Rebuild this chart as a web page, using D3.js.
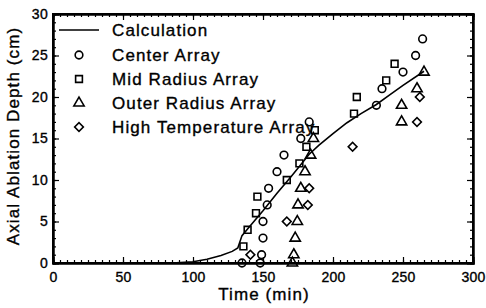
<!DOCTYPE html>
<html>
<head>
<meta charset="utf-8">
<script src="https://cdn.jsdelivr.net/npm/d3@7"></script>
<style>
  body { margin: 0; background: #fff; }
  svg text { font-family: "Liberation Sans", Arial, sans-serif; fill: #000; stroke: #000; stroke-width: 0.35px; }
  .axis path, .axis line { stroke: #000; }
  .axis text { font-size: 14px; letter-spacing: 0.3px; }
</style>
</head>
<body>
<div id="chart"></div>
<script>
// Calculation curve (time, depth)
var calcTime  = [0, 85, 100, 110, 120, 128, 132, 135, 140, 150, 160, 170, 183, 190, 200, 210, 220, 231, 240, 250, 265];
var calcDepth = [0, 0, 0.15, 0.45, 0.9, 1.4, 1.8, 3.3, 4.3, 6.3, 8.4, 10.4, 13.1, 14.2, 15.6, 16.9, 18.0, 19.1, 20.2, 21.4, 23.1];

// measured arrays
var centerTime  = [135, 148, 149, 150, 150, 153, 154, 160, 165, 177, 183, 231, 235, 250, 259, 264];
var centerDepth = [0, 0, 1, 3, 5, 7, 9, 11, 13, 15, 17, 19, 21, 23, 25, 27];

var midTime  = [136, 139, 145, 146, 167, 176, 181, 187, 215, 217, 238, 244];
var midDepth = [2, 4, 6, 8, 10, 12, 14, 16, 18, 20, 22, 24];

var outerTime  = [171, 172, 173, 174.5, 175, 177, 180, 184, 186, 249, 249, 260, 265];
var outerDepth = [0, 1, 3, 5, 7, 9, 11, 13, 15, 17, 19, 21, 23];

var highTime  = [141, 167, 182, 183, 214, 260, 262];
var highDepth = [1, 5, 7, 9, 14, 17, 20];

var legendLabels = ["Calculation", "Center Array", "Mid Radius Array", "Outer Radius Array", "High Temperature Array"];
var xTicks = [0, 50, 100, 150, 200, 250, 300];
var yTicks = [0, 5, 10, 15, 20, 25, 30];

var svgWidth = 486;
var svgHeight = 308;
var margin = { top: 14, right: 13, bottom: 45, left: 53 };
var width = svgWidth - margin.left - margin.right;
var height = svgHeight - margin.top - margin.bottom;

var svg = d3.select("#chart").append("svg")
  .attr("width", svgWidth)
  .attr("height", svgHeight);

var chartGroup = svg.append("g")
  .attr("transform", `translate(${margin.left}, ${margin.top})`);

var x = d3.scaleLinear().domain([0, 300]).range([0, width]);
var y = d3.scaleLinear().domain([0, 30]).range([height, 0]);

// minor ticks (inward) on all four sides
chartGroup.append("g").attr("class", "axis")
  .attr("transform", `translate(0, ${height})`)
  .call(d3.axisBottom(x).ticks(60).tickSize(-3).tickFormat(""));
chartGroup.append("g").attr("class", "axis")
  .call(d3.axisTop(x).ticks(60).tickSize(-3).tickFormat(""));
chartGroup.append("g").attr("class", "axis")
  .call(d3.axisLeft(y).ticks(30).tickSize(-3).tickFormat(""));
chartGroup.append("g").attr("class", "axis")
  .attr("transform", `translate(${width}, 0)`)
  .call(d3.axisRight(y).ticks(30).tickSize(-3).tickFormat(""));

// major ticks + labels
var xAxis = chartGroup.append("g").attr("class", "axis")
  .attr("transform", `translate(0, ${height})`)
  .call(d3.axisBottom(x).tickValues(xTicks).tickSize(-6).tickPadding(9));
var yAxis = chartGroup.append("g").attr("class", "axis")
  .call(d3.axisLeft(y).tickValues(yTicks).tickSize(-6).tickPadding(5));
chartGroup.append("g").attr("class", "axis")
  .call(d3.axisTop(x).tickValues(xTicks).tickSize(-6).tickFormat(""));
chartGroup.append("g").attr("class", "axis")
  .attr("transform", `translate(${width}, 0)`)
  .call(d3.axisRight(y).tickValues(yTicks).tickSize(-6).tickFormat(""));

chartGroup.selectAll(".axis path").attr("stroke-width", 2);
chartGroup.selectAll(".axis line").attr("stroke-width", 1.2);

// frame
chartGroup.append("rect")
  .attr("width", width).attr("height", height)
  .attr("fill", "none").attr("stroke", "#000").attr("stroke-width", 2);

// calculation line
var calcData = calcTime.map((t, i) => [t, calcDepth[i]]);
chartGroup.append("path")
  .datum(calcData)
  .attr("fill", "none")
  .attr("stroke", "#000")
  .attr("stroke-width", 1.6)
  .attr("d", d3.line().x(d => x(d[0])).y(d => y(d[1])));

// marker shapes
var symCircle = d3.symbol().type(d3.symbolCircle).size(46);
var symSquare = d3.symbol().type(d3.symbolSquare).size(46);
var symTriangle = d3.symbol().type(d3.symbolTriangle).size(46);
var symDiamond = d3.symbol().type(d3.symbolSquare).size(38);

var seriesList = [
  { t: centerTime, d: centerDepth, sym: symCircle, rot: 0 },
  { t: midTime, d: midDepth, sym: symSquare, rot: 0 },
  { t: outerTime, d: outerDepth, sym: symTriangle, rot: 0 },
  { t: highTime, d: highDepth, sym: symDiamond, rot: 45 }
];

seriesList.forEach(function(s) {
  chartGroup.selectAll(null)
    .data(s.t.map((t, i) => [t, s.d[i]]))
    .enter()
    .append("path")
    .attr("d", s.sym())
    .attr("transform", d => `translate(${x(d[0])}, ${y(d[1])}) rotate(${s.rot})`)
    .attr("fill", "none")
    .attr("stroke", "#000")
    .attr("stroke-width", 1.6);
});

// legend
var legendY = [30, 55, 79, 103, 127];
var legend = svg.append("g");
legend.append("line")
  .attr("x1", 59).attr("x2", 99)
  .attr("y1", legendY[0]).attr("y2", legendY[0])
  .attr("stroke", "#000").attr("stroke-width", 1.6);
seriesList.forEach(function(s, i) {
  legend.append("path")
    .attr("d", s.sym())
    .attr("transform", `translate(79, ${legendY[i + 1]}) rotate(${s.rot})`)
    .attr("fill", "none")
    .attr("stroke", "#000")
    .attr("stroke-width", 1.6);
});
legend.selectAll("text")
  .data(legendLabels)
  .enter()
  .append("text")
  .attr("x", 112)
  .attr("y", (d, i) => legendY[i])
  .attr("dy", "0.36em")
  .style("font-size", "17px")
  .style("letter-spacing", "1.1px")
  .text(d => d);

// axis titles
svg.append("text")
  .attr("x", margin.left + x(150) + 1)
  .attr("y", 300)
  .attr("text-anchor", "middle")
  .style("font-size", "17px")
  .style("letter-spacing", "1.1px")
  .text("Time (min)");

svg.append("text")
  .attr("transform", "translate(19, 136) rotate(-90)")
  .attr("text-anchor", "middle")
  .style("font-size", "17px")
  .style("letter-spacing", "1.1px")
  .text("Axial Ablation Depth (cm)");
</script>
</body>
</html>
